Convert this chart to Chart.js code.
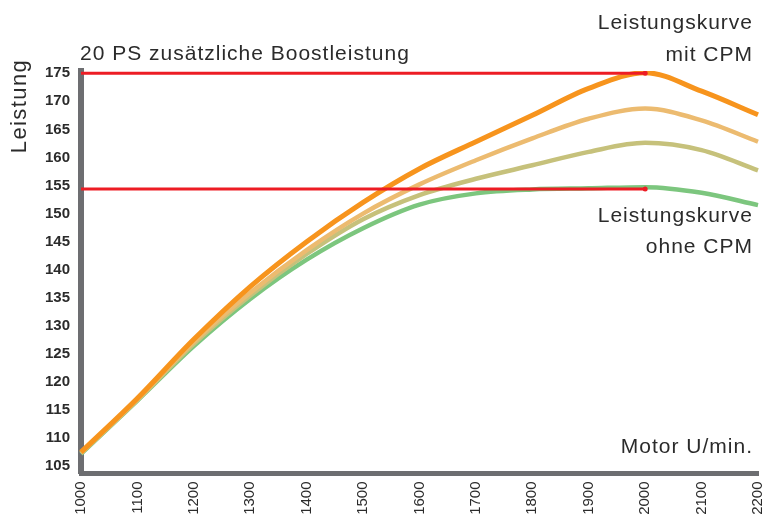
<!DOCTYPE html>
<html>
<head>
<meta charset="utf-8">
<script src="https://cdn.jsdelivr.net/npm/chart.js@4"></script>
<style>
  html, body { margin: 0; padding: 0; background: #fff; }
  #wrap { width: 765px; height: 517px; }
</style>
</head>
<body>
<div id="wrap"><canvas id="grafico" width="765" height="517"></canvas></div>
<script>
// drehzahl (U/min) und leistung der vier kurven
const drehzahl = [1000, 1100, 1200, 1300, 1400, 1500, 1600, 1700, 1800, 1900, 2000, 2100, 2200];
const mitCPM   = [107.5, 117.1, 127.6, 137.0, 145.0, 152.0, 158.0, 162.8, 167.5, 172.3, 175.1, 171.8, 167.6];
const stufe2   = [107.4, 116.9, 127.2, 135.9, 143.5, 150.0, 155.2, 159.5, 163.4, 166.9, 168.7, 166.6, 162.8];
const stufe1   = [107.3, 116.8, 126.8, 135.4, 142.8, 149.0, 153.3, 156.2, 158.6, 161.0, 162.6, 161.3, 157.7];
const ohneCPM  = [107.2, 116.7, 126.4, 134.8, 141.8, 147.4, 151.6, 153.6, 154.3, 154.5, 154.7, 153.7, 151.5];
const linieMit  = [175, 175, 175, 175, 175, 175, 175, 175, 175, 175, 175, null, null];
const linieOhne = [154.4, 154.4, 154.4, 154.4, 154.4, 154.4, 154.4, 154.4, 154.4, 154.4, 154.4, null, null];
const yTicks = [105, 110, 115, 120, 125, 130, 135, 140, 145, 150, 155, 160, 165, 170, 175];

const textFarbe = '#2b2b2b';
const schrift = '"Liberation Sans", Arial, sans-serif';

// beschriftungen im diagramm
const texte = {
  id: 'texte',
  afterDraw(chart) {
    const ctx = chart.ctx;
    ctx.save();
    ctx.fillStyle = textFarbe;
    ctx.font = '21px ' + schrift;
    ctx.letterSpacing = '1px';
    ctx.textBaseline = 'alphabetic';
    ctx.textAlign = 'left';
    ctx.fillText('20 PS zusätzliche Boostleistung', 80, 60);
    ctx.textAlign = 'right';
    ctx.fillText('Leistungskurve', 753, 29);
    ctx.fillText('mit CPM', 753, 61);
    ctx.fillText('Leistungskurve', 753, 222);
    ctx.fillText('ohne CPM', 753, 253);
    ctx.fillText('Motor U/min.', 753, 453);
    ctx.translate(26, 106);
    ctx.rotate(-Math.PI / 2);
    ctx.textAlign = 'center';
    ctx.font = '22px ' + schrift;
    ctx.letterSpacing = '1.4px';
    ctx.fillText('Leistung', 0, 0);
    ctx.restore();
  }
};

const linie = (label, data, farbe, breite) => ({
  label: label,
  type: 'line',
  data: data,
  borderColor: farbe,
  borderWidth: breite,
  cubicInterpolationMode: 'monotone',
  pointRadius: 0,
  fill: false
});

const roteLinie = (label, data) => ({
  label: label,
  type: 'line',
  data: data,
  borderColor: '#ed1c24',
  borderWidth: 3,
  tension: 0,
  pointRadius: (c) => c.dataIndex === 10 ? 2.5 : 0,
  pointBackgroundColor: '#ed1c24',
  pointBorderWidth: 0,
  fill: false
});

const ctx = document.getElementById('grafico');

new Chart(ctx, {
  data: {
    labels: drehzahl,
    datasets: [
      roteLinie('Boost', linieMit),
      roteLinie('Basis', linieOhne),
      linie('mit CPM', mitCPM, '#f7941d', 5),
      linie('Stufe 2', stufe2, '#ecbb70', 4.5),
      linie('Stufe 1', stufe1, '#c6c17b', 4.5),
      linie('ohne CPM', ohneCPM, '#7cc67e', 4.5)
    ]
  },
  plugins: [texte],
  options: {
    responsive: false,
    animation: false,
    layout: { padding: { top: 71, right: 7, left: 0, bottom: 0 } },
    plugins: {
      legend: { display: false },
      tooltip: { enabled: false }
    },
    scales: {
      x: {
        type: 'category',
        offset: false,
        grid: { color: 'rgba(0,0,0,0)', drawTicks: false },
        border: { color: '#6d6e71', width: 5 },
        ticks: {
          autoSkip: false,
          minRotation: 90,
          maxRotation: 90,
          padding: 8,
          color: textFarbe,
          font: { family: schrift, size: 15 }
        },
        afterFit(scale) {
          scale.height = 43.5;
          scale.paddingLeft = 0;
          scale.paddingRight = 0;
        }
      },
      y: {
        type: 'linear',
        position: 'left',
        min: 103.7,
        max: 175.4,
        grid: { color: 'rgba(0,0,0,0)', drawTicks: false },
        border: { color: '#6d6e71', width: 6 },
        afterBuildTicks(scale) { scale.ticks = yTicks.map(v => ({ value: v })); },
        ticks: {
          padding: 11,
          color: textFarbe,
          font: { family: schrift, size: 15, weight: 'bold' }
        },
        afterFit(scale) { scale.width = 81; }
      }
    }
  }
});
</script>
</body>
</html>
